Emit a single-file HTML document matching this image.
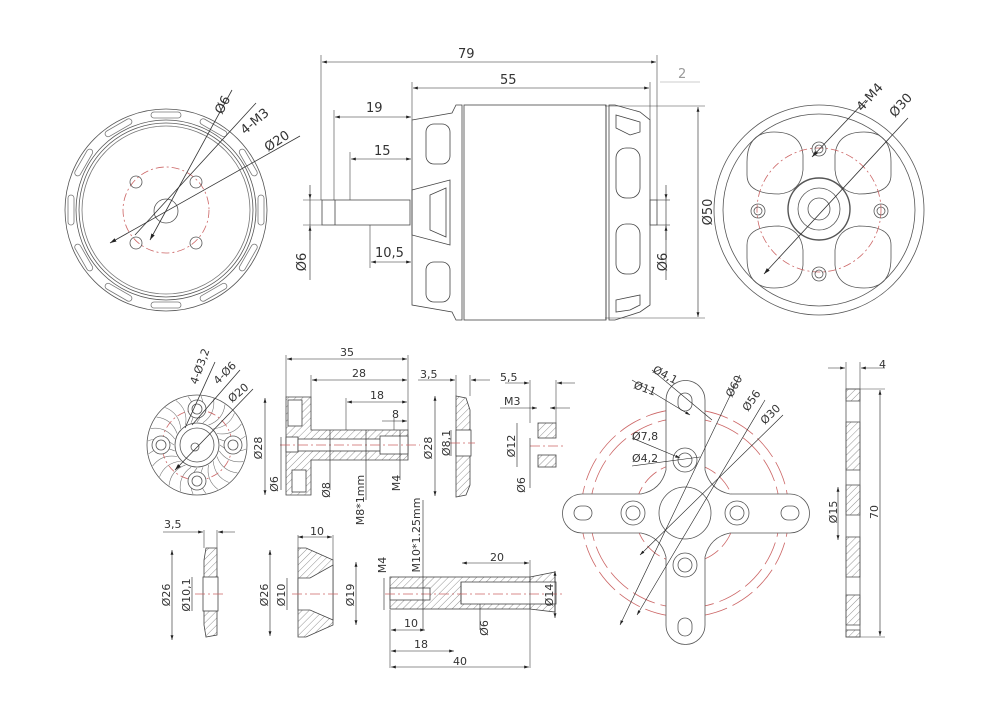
<!DOCTYPE html>
<html><head><meta charset="utf-8"><style>
html,body{margin:0;padding:0;background:#fff;}
svg{display:block;}
text{font-family:"DejaVu Sans","Liberation Sans",sans-serif;fill:#333;font-size:13px;}
.s{font-size:11px;}
</style></head><body>
<svg width="990" height="724" viewBox="0 0 990 724" xmlns="http://www.w3.org/2000/svg">
<defs>
<pattern id="h" patternUnits="userSpaceOnUse" width="5" height="5" patternTransform="rotate(45)">
<line x1="0" y1="0" x2="0" y2="5" stroke="#666" stroke-width="0.7"/></pattern>
<marker id="a" viewBox="0 0 10 6" refX="10" refY="3" markerWidth="8" markerHeight="5" orient="auto-start-reverse"><path d="M0,0L10,3L0,6z" fill="#222"/></marker>
<rect id="slot" x="-15" y="-98" width="30" height="6" rx="3"/>
<path id="fin" d="M0,-23 Q10,-35 4,-49"/>
<path id="kid" d="M-72,-48 Q-72,-78 -45,-78 Q-18,-78 -16,-55 L-16,-40 Q-18,-18 -40,-16 Q-72,-16 -72,-35 Z"/>
</defs>
<g fill="none" stroke="#555" stroke-width="0.8">

<!-- LEFT FRONT VIEW -->
<circle cx="166" cy="210" r="101"/>
<circle cx="166" cy="210" r="90"/><circle cx="166" cy="210" r="87"/><circle cx="166" cy="210" r="84" stroke="#777"/>
<g transform="translate(166,210)" stroke="#777">
<use href="#slot" transform="rotate(0)"/><use href="#slot" transform="rotate(30)"/><use href="#slot" transform="rotate(60)"/>
<use href="#slot" transform="rotate(90)"/><use href="#slot" transform="rotate(120)"/><use href="#slot" transform="rotate(150)"/>
<use href="#slot" transform="rotate(180)"/><use href="#slot" transform="rotate(210)"/><use href="#slot" transform="rotate(240)"/>
<use href="#slot" transform="rotate(270)"/><use href="#slot" transform="rotate(300)"/><use href="#slot" transform="rotate(330)"/>
</g>
<circle cx="166" cy="210" r="43" stroke="#c66" stroke-dasharray="8,3,2,3"/>
<circle cx="166" cy="211" r="12"/>
<circle cx="136" cy="182" r="6"/><circle cx="196" cy="182" r="6"/>
<circle cx="136" cy="243" r="6"/><circle cx="196" cy="243" r="6"/>
<line x1="110" y1="243" x2="300" y2="136" stroke="#333" marker-start="url(#a)"/>
<line x1="150" y1="240" x2="232" y2="90" stroke="#333" marker-start="url(#a)"/>
<line x1="135" y1="235" x2="256" y2="103" stroke="#333"/>

<!-- SIDE VIEW -->
<g stroke="#444">
<path d="M412,120 L452,113 L456,105 L462,105 L462,320 L456,320 L452,312 L412,305 Z"/>
<rect x="464" y="105" width="142" height="215"/>
<path d="M609,105 L615,105 L640,112 L650,120 L650,305 L640,312 L615,320 L609,320 Z"/>
<line x1="606" y1="105" x2="606" y2="320"/>
<rect x="426" y="124" width="24" height="40" rx="8"/><rect x="426" y="262" width="24" height="40" rx="8"/>
<path d="M412,190 L450,180 L450,245 L412,235 Z"/><path d="M430,195 L446,188 L446,237 L430,230Z"/>
<rect x="616" y="148" width="24" height="50" rx="10"/><rect x="616" y="224" width="24" height="50" rx="10"/>
<path d="M616,115 L640,122 L640,132 L630,135 L616,128Z"/><path d="M616,300 L640,295 L640,305 L630,310 L616,312Z"/>
<path d="M322,200 L410,200 L410,225 L322,225 Z"/><line x1="335" y1="200" x2="335" y2="225"/>
<rect x="650" y="200" width="7" height="25"/>
</g>
<g stroke="#444" stroke-width="0.6">
<line x1="321" y1="55" x2="321" y2="200"/><line x1="657" y1="55" x2="657" y2="200"/>
<line x1="412" y1="82" x2="412" y2="120"/><line x1="650" y1="82" x2="650" y2="120"/>
<line x1="334" y1="110" x2="334" y2="200"/><line x1="350" y1="152" x2="350" y2="200"/>
<line x1="370" y1="225" x2="370" y2="268"/>
<line x1="605" y1="106" x2="705" y2="106"/><line x1="605" y1="318" x2="705" y2="318"/>
<line x1="303" y1="200" x2="322" y2="200"/><line x1="303" y1="225" x2="322" y2="225"/>
<line x1="657" y1="200" x2="670" y2="200"/><line x1="657" y1="225" x2="670" y2="225"/>
<line x1="660" y1="82" x2="700" y2="82" stroke="#999"/>
</g>
<g stroke="#222" stroke-width="0.6">
<line x1="322" y1="62" x2="656" y2="62" marker-start="url(#a)" marker-end="url(#a)"/>
<line x1="413" y1="88" x2="649" y2="88" marker-start="url(#a)" marker-end="url(#a)"/>
<line x1="335" y1="117" x2="411" y2="117" marker-start="url(#a)" marker-end="url(#a)"/>
<line x1="351" y1="159" x2="411" y2="159" marker-start="url(#a)" marker-end="url(#a)"/>
<line x1="371" y1="262" x2="411" y2="262" marker-start="url(#a)" marker-end="url(#a)"/>
<line x1="698" y1="107" x2="698" y2="317" marker-start="url(#a)" marker-end="url(#a)"/>
<line x1="310" y1="185" x2="310" y2="199" marker-end="url(#a)"/><line x1="310" y1="240" x2="310" y2="226" marker-end="url(#a)"/>
<line x1="310" y1="199" x2="310" y2="280"/>
<line x1="666" y1="185" x2="666" y2="199" marker-end="url(#a)"/><line x1="666" y1="240" x2="666" y2="226" marker-end="url(#a)"/>
<line x1="666" y1="199" x2="666" y2="280"/>
</g>

<!-- RIGHT FRONT VIEW -->
<circle cx="819" cy="210" r="105"/><circle cx="819" cy="210" r="96"/>
<g transform="translate(819,210)">
<use href="#kid"/><use href="#kid" transform="scale(-1,1)"/><use href="#kid" transform="scale(1,-1)"/><use href="#kid" transform="scale(-1,-1)"/>
</g>
<circle cx="819" cy="210" r="62" stroke="#c66" stroke-dasharray="8,3,2,3"/>
<circle cx="819" cy="209" r="31" stroke-width="1.4"/><circle cx="819" cy="209" r="21"/><circle cx="819" cy="209" r="11"/>
<circle cx="819" cy="149" r="7"/><circle cx="819" cy="149" r="4"/>
<circle cx="758" cy="211" r="7"/><circle cx="758" cy="211" r="4"/>
<circle cx="881" cy="211" r="7"/><circle cx="881" cy="211" r="4"/>
<circle cx="819" cy="274" r="7"/><circle cx="819" cy="274" r="4"/>
<line x1="764" y1="274" x2="908" y2="118" stroke="#333" marker-start="url(#a)"/>
<line x1="812" y1="157" x2="866" y2="100" stroke="#333" marker-start="url(#a)"/>

<!-- LOWER ROW: hub face -->
<circle cx="197" cy="445" r="50"/><circle cx="197" cy="445" r="22"/><circle cx="197" cy="445" r="17"/><circle cx="195" cy="447" r="4"/>
<g transform="translate(197,445)" stroke="#777" stroke-width="0.6">
<use href="#fin" transform="rotate(0)"/><use href="#fin" transform="rotate(15)"/><use href="#fin" transform="rotate(30)"/><use href="#fin" transform="rotate(45)"/>
<use href="#fin" transform="rotate(60)"/><use href="#fin" transform="rotate(75)"/><use href="#fin" transform="rotate(90)"/><use href="#fin" transform="rotate(105)"/>
<use href="#fin" transform="rotate(120)"/><use href="#fin" transform="rotate(135)"/><use href="#fin" transform="rotate(150)"/><use href="#fin" transform="rotate(165)"/>
<use href="#fin" transform="rotate(180)"/><use href="#fin" transform="rotate(195)"/><use href="#fin" transform="rotate(210)"/><use href="#fin" transform="rotate(225)"/>
<use href="#fin" transform="rotate(240)"/><use href="#fin" transform="rotate(255)"/><use href="#fin" transform="rotate(270)"/><use href="#fin" transform="rotate(285)"/>
<use href="#fin" transform="rotate(300)"/><use href="#fin" transform="rotate(315)"/><use href="#fin" transform="rotate(330)"/><use href="#fin" transform="rotate(345)"/>
</g>
<circle cx="197" cy="445" r="35" stroke="#c66" stroke-dasharray="8,3,2,3"/>
<circle cx="197" cy="409" r="9" fill="#fff"/><circle cx="197" cy="409" r="5"/>
<circle cx="161" cy="445" r="9" fill="#fff"/><circle cx="161" cy="445" r="5"/>
<circle cx="233" cy="445" r="9" fill="#fff"/><circle cx="233" cy="445" r="5"/>
<circle cx="197" cy="481" r="9" fill="#fff"/><circle cx="197" cy="481" r="5"/>
<line x1="175" y1="470" x2="253" y2="389" stroke="#333" marker-start="url(#a)"/>
<line x1="185" y1="428" x2="215" y2="362" stroke="#333"/><line x1="192" y1="425" x2="240" y2="370" stroke="#333"/>

<!-- long adapter -->
<g stroke="#444">
<path d="M286,397 L311,397 L311,430 L408,430 L408,460 L311,460 L311,495 L286,495 Z" fill="url(#h)"/>
<rect x="288" y="400" width="14" height="26" fill="#fff"/><rect x="292" y="470" width="14" height="22" fill="#fff"/>
<rect x="286" y="437" width="12" height="15" fill="#fff"/>
<rect x="298" y="439" width="110" height="12" fill="#fff"/>
<rect x="380" y="436" width="28" height="18" fill="#fff"/>
<path d="M456,396 L466,398 L470,410 L470,485 L466,495 L456,497 Z" fill="url(#h)"/>
<rect x="456" y="430" width="15" height="26" fill="#fff"/>
<rect x="538" y="423" width="18" height="15" fill="url(#h)"/>
<rect x="538" y="455" width="18" height="12" fill="url(#h)"/>
<path d="M206,548 L217,548 L217,635 L206,637 L204,625 L204,560Z" fill="url(#h)"/>
<rect x="203" y="577" width="15" height="34" fill="#fff"/>
<path d="M298,548 L306,548 L333,560 L333,625 L306,637 L298,637 Z" fill="url(#h)"/>
<path d="M298,578 L310,578 L333,565 L333,620 L310,610 L298,610Z" fill="#fff"/>
<rect x="390" y="577" width="140" height="32" fill="url(#h)"/>
<path d="M530,577 L555,572 L555,612 L530,609Z" fill="url(#h)"/>
<rect x="390" y="588" width="40" height="12" fill="#fff"/>
<rect x="461" y="582" width="95" height="22" fill="#fff"/>
<line x1="461" y1="582" x2="461" y2="604"/>
</g>
<g stroke="#c66" stroke-dasharray="10,3,2,3">
<line x1="280" y1="445" x2="420" y2="445"/><line x1="450" y1="443" x2="475" y2="443"/>
<line x1="530" y1="446" x2="566" y2="446"/><line x1="195" y1="594" x2="225" y2="594"/>
<line x1="292" y1="594" x2="338" y2="594"/><line x1="385" y1="594" x2="565" y2="594"/>
</g>
<g stroke="#444" stroke-width="0.6">
<line x1="286" y1="355" x2="286" y2="397"/><line x1="408" y1="355" x2="408" y2="430"/>
<line x1="311" y1="375" x2="311" y2="397"/><line x1="346" y1="398" x2="346" y2="430"/><line x1="394" y1="418" x2="394" y2="430"/>
<line x1="456" y1="375" x2="456" y2="396"/><line x1="470" y1="375" x2="470" y2="396"/>
<line x1="530" y1="380" x2="530" y2="423"/><line x1="556" y1="380" x2="556" y2="423"/>
<line x1="204" y1="530" x2="204" y2="548"/><line x1="217" y1="530" x2="217" y2="548"/>
<line x1="298" y1="535" x2="298" y2="548"/><line x1="333" y1="535" x2="333" y2="560"/>
<line x1="390" y1="610" x2="390" y2="668"/><line x1="530" y1="560" x2="530" y2="668"/>
<line x1="846" y1="362" x2="846" y2="389"/><line x1="860" y1="362" x2="860" y2="389"/>
<line x1="860" y1="389" x2="885" y2="389"/><line x1="860" y1="637" x2="885" y2="637"/>
</g>
<g stroke="#222" stroke-width="0.6">
<line x1="287" y1="359" x2="407" y2="359" marker-start="url(#a)" marker-end="url(#a)"/>
<line x1="312" y1="380" x2="407" y2="380" marker-start="url(#a)" marker-end="url(#a)"/>
<line x1="347" y1="402" x2="407" y2="402" marker-start="url(#a)" marker-end="url(#a)"/>
<line x1="382" y1="421" x2="407" y2="421" marker-end="url(#a)"/>
<line x1="418" y1="380" x2="455" y2="380" marker-end="url(#a)"/><line x1="490" y1="380" x2="471" y2="380" marker-end="url(#a)"/>
<line x1="505" y1="383" x2="529" y2="383" marker-end="url(#a)"/><line x1="575" y1="383" x2="557" y2="383" marker-end="url(#a)"/>
<line x1="500" y1="408" x2="537" y2="408" marker-end="url(#a)"/><line x1="570" y1="408" x2="550" y2="408" marker-end="url(#a)"/>
<line x1="265" y1="398" x2="265" y2="495" marker-start="url(#a)" marker-end="url(#a)"/>
<line x1="281" y1="437" x2="281" y2="490" /><line x1="330" y1="430" x2="330" y2="490"/>
<line x1="366" y1="430" x2="366" y2="500"/><line x1="400" y1="430" x2="400" y2="480"/>
<line x1="435" y1="396" x2="435" y2="496" marker-start="url(#a)" marker-end="url(#a)"/>
<line x1="451" y1="430" x2="451" y2="456"/>
<line x1="517" y1="423" x2="517" y2="467"/><line x1="530" y1="438" x2="530" y2="488"/>
<line x1="172" y1="550" x2="172" y2="640" marker-start="url(#a)" marker-end="url(#a)"/>
<line x1="192" y1="577" x2="192" y2="611"/>
<line x1="163" y1="532" x2="203" y2="532" marker-end="url(#a)"/><line x1="235" y1="532" x2="218" y2="532" marker-end="url(#a)"/>
<line x1="298" y1="537" x2="332" y2="537" marker-start="url(#a)" marker-end="url(#a)"/>
<line x1="270" y1="550" x2="270" y2="636" marker-start="url(#a)" marker-end="url(#a)"/>
<line x1="287" y1="578" x2="287" y2="610"/>
<line x1="356" y1="562" x2="356" y2="625" marker-start="url(#a)" marker-end="url(#a)"/>
<line x1="462" y1="563" x2="529" y2="563" marker-start="url(#a)" marker-end="url(#a)"/>
<line x1="555" y1="571" x2="555" y2="618" marker-start="url(#a)" marker-end="url(#a)"/>
<line x1="391" y1="630" x2="425" y2="630" marker-start="url(#a)" marker-end="url(#a)"/>
<line x1="391" y1="651" x2="454" y2="651" marker-start="url(#a)" marker-end="url(#a)"/>
<line x1="391" y1="667" x2="529" y2="667" marker-start="url(#a)" marker-end="url(#a)"/>
<line x1="384" y1="578" x2="384" y2="610"/><line x1="423" y1="500" x2="423" y2="630"/>
<line x1="480" y1="604" x2="480" y2="630"/>
</g>

<!-- CROSS MOUNT -->
<circle cx="685" cy="513" r="104" stroke="#c66" stroke-dasharray="24,6"/>
<circle cx="685" cy="513" r="95" stroke="#c66" stroke-dasharray="24,6"/>
<circle cx="685" cy="513" r="50" stroke="#c66" stroke-dasharray="16,5"/>
<path d="M666,400 a19,19 0 0 1 39,0 L705,470 q5,20 25,24 L790,494 a19.5,19.5 0 0 1 0,39 L730,533 q-20,4 -25,24 L705,625 a19.5,19.5 0 0 1 -39,0 L666,557 q-5,-20 -25,-24 L582,533 a19.5,19.5 0 0 1 0,-39 L641,494 q20,-4 25,-24 Z" fill="#fff"/>
<circle cx="685" cy="513" r="26"/>
<rect x="678" y="393" width="14" height="18" rx="7"/><rect x="678" y="618" width="14" height="18" rx="7"/>
<rect x="574" y="506" width="18" height="14" rx="7"/><rect x="781" y="506" width="18" height="14" rx="7"/>
<circle cx="685" cy="460" r="12"/><circle cx="685" cy="460" r="7"/>
<circle cx="685" cy="565" r="12"/><circle cx="685" cy="565" r="7"/>
<circle cx="633" cy="513" r="12"/><circle cx="633" cy="513" r="7"/>
<circle cx="737" cy="513" r="12"/><circle cx="737" cy="513" r="7"/>
<g stroke="#222" stroke-width="0.6">
<line x1="740" y1="375" x2="620" y2="625" marker-end="url(#a)"/>
<line x1="765" y1="400" x2="637" y2="615" marker-end="url(#a)"/>
<line x1="783" y1="415" x2="640" y2="555" marker-end="url(#a)"/>
<line x1="632" y1="380" x2="690" y2="415" marker-end="url(#a)"/>
<line x1="652" y1="370" x2="712" y2="420"/>
<line x1="632" y1="438" x2="680" y2="458" marker-end="url(#a)"/>
<line x1="632" y1="466" x2="700" y2="457"/>
</g>

<!-- SIDE PLATE -->
<rect x="846" y="389" width="14" height="248"/>
<g fill="url(#h)">
<rect x="846" y="389" width="14" height="12"/><rect x="846" y="422" width="14" height="48"/>
<rect x="846" y="485" width="14" height="30" /><rect x="846" y="537" width="14" height="40"/>
<rect x="846" y="595" width="14" height="30"/><rect x="846" y="630" width="14" height="7"/>
</g>
<g stroke="#222" stroke-width="0.6">
<line x1="880" y1="390" x2="880" y2="636" marker-start="url(#a)" marker-end="url(#a)"/>
<line x1="838" y1="487" x2="838" y2="540" marker-start="url(#a)" marker-end="url(#a)"/>
<line x1="828" y1="368" x2="845" y2="368" marker-end="url(#a)"/><line x1="885" y1="368" x2="861" y2="368" marker-end="url(#a)"/>
</g>
</g>

<!-- TEXT -->
<text x="458" y="58">79</text><text x="500" y="84">55</text>
<text x="678" y="78" style="fill:#999">2</text>
<text x="366" y="112">19</text><text x="374" y="155">15</text><text x="375" y="257">10,5</text>
<text transform="translate(712,212) rotate(-90)" text-anchor="middle">Ø50</text>
<text transform="translate(306,262) rotate(-90)" text-anchor="middle">Ø6</text>
<text transform="translate(667,262) rotate(-90)" text-anchor="middle">Ø6</text>
<text transform="translate(222,115) rotate(-62)">Ø6</text>
<text transform="translate(245,135) rotate(-40)">4-M3</text>
<text transform="translate(268,152) rotate(-33)">Ø20</text>
<text transform="translate(862,112) rotate(-48)">4-M4</text>
<text transform="translate(895,118) rotate(-48)">Ø30</text>
<g class="s">
<text class="s" transform="translate(197,385) rotate(-70)">4-Ø3,2</text>
<text class="s" transform="translate(218,385) rotate(-45)">4-Ø6</text>
<text class="s" transform="translate(232,403) rotate(-40)">Ø20</text>
<text class="s" x="340" y="356">35</text><text class="s" x="352" y="377">28</text>
<text class="s" x="370" y="399">18</text><text class="s" x="392" y="418">8</text>
<text class="s" x="420" y="378">3,5</text><text class="s" x="500" y="381">5,5</text>
<text class="s" x="504" y="405">M3</text>
<text class="s" x="164" y="528">3,5</text><text class="s" x="310" y="535">10</text>
<text class="s" x="490" y="561">20</text>
<text class="s" x="404" y="627">10</text><text class="s" x="414" y="648">18</text><text class="s" x="453" y="665">40</text>
<text class="s" x="879" y="368">4</text>
<text class="s" transform="translate(262,448) rotate(-90)" text-anchor="middle">Ø28</text>
<text class="s" transform="translate(278,484) rotate(-90)" text-anchor="middle">Ø6</text>
<text class="s" transform="translate(330,490) rotate(-90)" text-anchor="middle">Ø8</text>
<text class="s" transform="translate(364,500) rotate(-90)" text-anchor="middle">M8*1mm</text>
<text class="s" transform="translate(400,483) rotate(-90)" text-anchor="middle">M4</text>
<text class="s" transform="translate(432,448) rotate(-90)" text-anchor="middle">Ø28</text>
<text class="s" transform="translate(450,443) rotate(-90)" text-anchor="middle">Ø8,1</text>
<text class="s" transform="translate(515,446) rotate(-90)" text-anchor="middle">Ø12</text>
<text class="s" transform="translate(525,485) rotate(-90)" text-anchor="middle">Ø6</text>
<text class="s" transform="translate(170,595) rotate(-90)" text-anchor="middle">Ø26</text>
<text class="s" transform="translate(190,595) rotate(-90)" text-anchor="middle">Ø10,1</text>
<text class="s" transform="translate(268,595) rotate(-90)" text-anchor="middle">Ø26</text>
<text class="s" transform="translate(285,595) rotate(-90)" text-anchor="middle">Ø10</text>
<text class="s" transform="translate(354,595) rotate(-90)" text-anchor="middle">Ø19</text>
<text class="s" transform="translate(420,535) rotate(-90)" text-anchor="middle">M10*1.25mm</text>
<text class="s" transform="translate(386,565) rotate(-90)" text-anchor="middle">M4</text>
<text class="s" transform="translate(553,595) rotate(-90)" text-anchor="middle">Ø14</text>
<text class="s" transform="translate(488,628) rotate(-90)" text-anchor="middle">Ø6</text>
<text class="s" transform="translate(837,512) rotate(-90)" text-anchor="middle">Ø15</text>
<text class="s" transform="translate(878,512) rotate(-90)" text-anchor="middle">70</text>
<text class="s" transform="translate(633,388) rotate(20)">Ø11</text>
<text class="s" transform="translate(652,372) rotate(28)">Ø4,1</text>
<text class="s" x="632" y="440">Ø7,8</text><text class="s" x="632" y="462">Ø4,2</text>
<text class="s" transform="translate(732,398) rotate(-62)">Ø60</text>
<text class="s" transform="translate(748,412) rotate(-55)">Ø56</text>
<text class="s" transform="translate(765,425) rotate(-45)">Ø30</text>
</g>
</svg>
</body></html>
